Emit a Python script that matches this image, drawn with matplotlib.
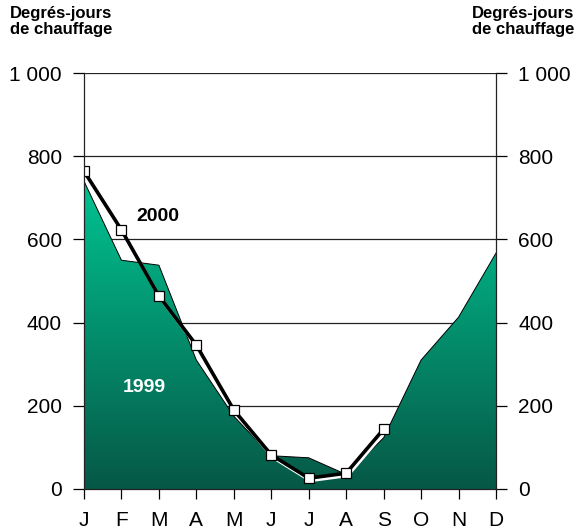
##heating degree-days, 1999 vs 2000
import numpy as np
import matplotlib.pyplot as plt
from matplotlib.colors import LinearSegmentedColormap
from matplotlib.patches import Polygon

plt.rcParams['font.family'] = ['Liberation Sans', 'DejaVu Sans']

#data
months = ['J', 'F', 'M', 'A', 'M', 'J', 'J', 'A', 'S', 'O', 'N', 'D']
dd_1999 = [740, 550, 538, 310, 175, 80, 75, 35, 123, 310, 413, 567]
dd_2000 = [764, 623, 464, 346, 190, 82, 26, 38, 144]
yticks = [0, 200, 400, 600, 800, 1000]
ytick_labels = ['0', '200', '400', '600', '800', '1 000']
axis_title = 'Degrés-jours\nde chauffage'

fig = plt.figure(figsize=(5.76, 5.31), dpi=100)
ax = fig.add_axes([0.1458, 0.0791, 0.8611 - 0.1458, 0.8625 - 0.0791])

x = np.arange(len(months))
x2 = np.arange(len(dd_2000))

#gradient filled area for 1999
cmap = LinearSegmentedColormap.from_list('grn', ['#065846', '#00c492'])
top = max(dd_1999)
grad = np.linspace(0, 1, 256).reshape(-1, 1)
img = ax.imshow(grad, cmap=cmap, origin='lower', aspect='auto',
                extent=[x[0], x[-1], 0, top], zorder=1)
verts = [(x[0], 0)] + list(zip(x, dd_1999)) + [(x[-1], 0)]
poly = Polygon(verts, closed=True, facecolor='none', edgecolor='none')
ax.add_patch(poly)
img.set_clip_path(poly)
ax.plot(x, dd_1999, color='black', linewidth=0.7, zorder=2)

#2000 line with white halo
ax.plot(x2 + 0.04, np.array(dd_2000) - 6, color='white', linewidth=2.2, zorder=3,
        solid_joinstyle='miter')
ax.plot(x2, dd_2000, color='black', linewidth=2.6, zorder=4,
        marker='s', markersize=6.5, markerfacecolor='white',
        markeredgecolor='black', markeredgewidth=0.9)

ax.text(1.4, 655, '2000', fontsize=14, fontweight='bold', color='black',
        ha='left', va='center', zorder=5)
ax.text(1.03, 245, '1999', fontsize=14, fontweight='bold', color='white',
        ha='left', va='center', zorder=5)

#axes
ax.set_xlim(x[0], x[-1])
ax.set_ylim(0, 1000)
ax.set_yticks(yticks)
ax.set_yticklabels(ytick_labels)
ax.set_xticks(x)
ax.set_xticklabels(months)
for yv in yticks[1:]:
    ax.axhline(yv, color='#222222', linewidth=0.9, zorder=0.5)
ax.tick_params(axis='y', which='both', direction='out', length=8, width=0.9,
               labelsize=15, pad=8, left=True, right=True,
               labelleft=True, labelright=True)
ax.tick_params(axis='x', direction='out', length=7, width=0.9,
               labelsize=15, pad=9)
ax.spines['top'].set_visible(False)
for s in ['left', 'right', 'bottom']:
    ax.spines[s].set_color('#222222')
    ax.spines[s].set_linewidth(0.9)
    ax.spines[s].set_zorder(6)

fig.text(10 / 576, 1 - 6 / 531, axis_title, fontsize=12, fontweight='bold',
         ha='left', va='top', linespacing=1.1)
fig.text(574 / 576, 1 - 6 / 531, axis_title, fontsize=12, fontweight='bold',
         ha='right', va='top', linespacing=1.1)

plt.savefig('out.png', dpi=100)
